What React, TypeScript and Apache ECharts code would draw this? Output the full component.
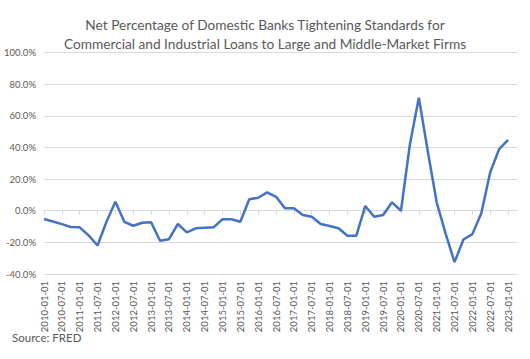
import React, { useEffect, useRef } from "react";
import * as echarts from "echarts";

const titleLines = [
  "Net Percentage of Domestic Banks Tightening Standards for",
  "Commercial and Industrial Loans to Large and Middle-Market Firms",
];
const sourceText = "Source: FRED";

const categories = [
  "2010-01-01", "2010-04-01", "2010-07-01", "2010-10-01",
  "2011-01-01", "2011-04-01", "2011-07-01", "2011-10-01",
  "2012-01-01", "2012-04-01", "2012-07-01", "2012-10-01",
  "2013-01-01", "2013-04-01", "2013-07-01", "2013-10-01",
  "2014-01-01", "2014-04-01", "2014-07-01", "2014-10-01",
  "2015-01-01", "2015-04-01", "2015-07-01", "2015-10-01",
  "2016-01-01", "2016-04-01", "2016-07-01", "2016-10-01",
  "2017-01-01", "2017-04-01", "2017-07-01", "2017-10-01",
  "2018-01-01", "2018-04-01", "2018-07-01", "2018-10-01",
  "2019-01-01", "2019-04-01", "2019-07-01", "2019-10-01",
  "2020-01-01", "2020-04-01", "2020-07-01", "2020-10-01",
  "2021-01-01", "2021-04-01", "2021-07-01", "2021-10-01",
  "2022-01-01", "2022-04-01", "2022-07-01", "2022-10-01",
  "2023-01-01", "2023-04-01",
];

const netTightening = [
  -5.2, -6.8, -8.5, -10.3,
  -10.5, -15.6, -22.0, -7.0,
  5.7, -7.0, -9.5, -7.6,
  -7.3, -19.0, -18.0, -8.4,
  -13.7, -11.1, -10.8, -10.5,
  -5.4, -5.4, -7.0, 7.2,
  8.2, 11.6, 8.8, 1.5,
  1.5, -2.7, -3.8, -8.4,
  -9.7, -11.1, -15.8, -15.8,
  3.0, -3.8, -2.7, 5.3,
  0.0, 42.0, 71.4, 37.7,
  5.3, -14.5, -32.5, -18.2,
  -14.8, -1.6, 24.3, 39.0,
  44.8,
];

const yMin = -40;
const yMax = 100;
const yStep = 20;

const FONT = "Lato, Open Sans, sans-serif";
const TEXT = "#595959";
const GRID = "#d9d9d9";

export default function App() {
  const ref = useRef<HTMLDivElement>(null);
  useEffect(() => {
    if (!ref.current) return;
    const chart = echarts.init(ref.current, undefined, { renderer: "svg" });
    chart.setOption({
      animation: false,
      backgroundColor: "#ffffff",
      title: {
        text: titleLines.join("\n"),
        left: "center",
        top: 10,
        textStyle: {
          fontFamily: FONT,
          fontSize: 13.7,
          fontWeight: "normal",
          color: TEXT,
          lineHeight: 19,
        },
      },
      graphic: [
        {
          type: "text",
          left: 12,
          top: 331,
          style: { text: sourceText, fontFamily: FONT, fontSize: 11.5, fill: TEXT },
        },
      ],
      grid: { left: 44, right: 13, top: 52.5, bottom: 85, containLabel: false },
      xAxis: [
        {
          type: "category",
          data: categories,
          boundaryGap: false,
          position: "top",
          axisLine: { show: true, onZero: true, lineStyle: { color: GRID, width: 1 } },
          axisTick: { show: true, inside: true, length: 4, interval: 1, lineStyle: { color: GRID } },
          axisLabel: { show: false },
          splitLine: { show: false },
        },
        {
          type: "category",
          data: categories,
          boundaryGap: false,
          position: "bottom",
          axisLine: { show: false, onZero: false },
          axisTick: { show: false },
          axisLabel: {
            show: true,
            interval: 1,
            rotate: 90,
            margin: 7,
            fontFamily: FONT,
            fontSize: 9.5,
            color: TEXT,
          },
          splitLine: { show: false },
        },
      ],
      yAxis: {
        type: "value",
        min: yMin,
        max: yMax,
        interval: yStep,
        axisLine: { show: false },
        axisTick: { show: false },
        axisLabel: {
          margin: 8,
          fontFamily: FONT,
          fontSize: 9.5,
          color: TEXT,
          formatter: (v: number) => `${v.toFixed(1)}%`,
        },
        splitLine: { show: true, lineStyle: { color: GRID, width: 1 } },
      },
      series: [
        {
          type: "line",
          xAxisIndex: 0,
          data: netTightening,
          showSymbol: false,
          symbol: "none",
          lineStyle: { color: "#4472C4", width: 2.5 },
          itemStyle: { color: "#4472C4" },
        },
      ],
    });
    return () => chart.dispose();
  }, []);
  return <div ref={ref} style={{ width: 530, height: 359, position: "absolute", left: 0, top: 0 }} />;
}
